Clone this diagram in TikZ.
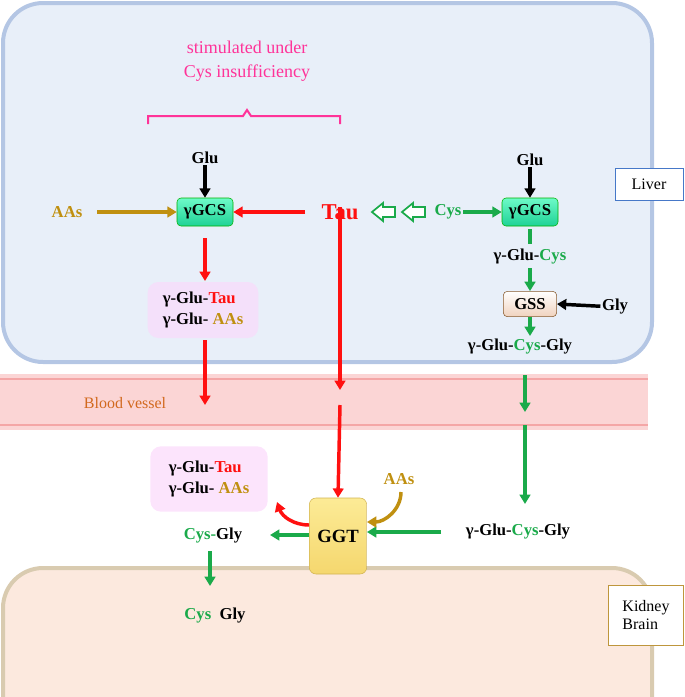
\documentclass[tikz,border=0pt]{standalone}
\usepackage{fontspec}
\setmainfont{Liberation Serif}
\usetikzlibrary{arrows.meta}
\definecolor{gr}{HTML}{1AAA4A}
\definecolor{gd}{HTML}{C09010}
\definecolor{rd}{HTML}{FF1010}
\definecolor{pk}{HTML}{FF3399}
\definecolor{lvb}{HTML}{B4C6E4}
\definecolor{lvf}{HTML}{E8EFF9}
\definecolor{bvf}{HTML}{FBD5D5}
\definecolor{bvl}{HTML}{F4A6A6}
\definecolor{kb}{HTML}{D9CBB0}
\definecolor{kf}{HTML}{FCE9DE}
\definecolor{lb}{HTML}{4678C8}
\definecolor{kbb}{HTML}{BE963C}
\definecolor{gtop}{HTML}{6EFAC8}
\definecolor{gbot}{HTML}{1ED296}
\definecolor{gsb}{HTML}{F0D2BE}
\definecolor{pb}{HTML}{F4E0FA}
\definecolor{pb2}{HTML}{FCE4FC}
\definecolor{bvt}{HTML}{D2691E}
\definecolor{ytop}{HTML}{FCEB96}
\definecolor{ybot}{HTML}{F5D76E}
\definecolor{yb}{HTML}{D2B450}
\tikzset{
 t/.style={font=\bfseries\fontsize{12.5}{15}\selectfont, inner sep=1pt},
 ar/.style={-{Triangle[length=7pt,width=8pt]}, line width=2.6pt},
 enz/.style={rounded corners=3pt, draw=#1!70!black, thin, minimum width=42pt, minimum height=21pt, font=\bfseries\fontsize{12.5}{15}\selectfont},
}
\begin{document}
\begin{tikzpicture}[x=0.75pt,y=-0.75pt]
\useasboundingbox (0,0) rectangle (685,697);
% compartments
\draw[line width=3pt, draw=lvb, fill=lvf, rounded corners=30pt] (3,3) rectangle (652,362);
\fill[bvf] (0,374) rectangle (648,430);
\draw[line width=2pt, bvl] (0,379) -- (648,379) (0,425) -- (648,425);
\draw[line width=3pt, draw=kb, fill=kf, rounded corners=30pt] (3,720) -- (3,568) -- (652,568) -- (652,720);
\node[draw=lb, fill=white, minimum width=51pt, minimum height=24pt, font=\fontsize{12}{14}\selectfont] (liver) at (649,184) {Liver};
\node[draw=kbb, fill=white, minimum width=56pt, minimum height=45pt, align=left, font=\fontsize{12}{14}\selectfont] (kid) at (646,615) {Kidney\\Brain};
% brace
\node[pk, font=\fontsize{13.5}{18}\selectfont, align=center] (stim) at (247,61) {stimulated under\\Cys insufficiency};
\draw[pk, line width=1.5pt] (148,124) -- (148,116) -- (243,116) -- (247,110) -- (251,116) -- (340,116) -- (340,124);
% left part
\node[t] (glu1) at (205,158) {Glu};
\node[enz=green, top color=gtop, bottom color=gbot] (gcs1) at (205,212) {γGCS};
\node[t, gd] (aas1) at (67,212) {AAs};
\node[rd, font=\bfseries\fontsize{17}{20}\selectfont] (tau) at (340,212) {Tau};
\node[t, gr] (cys1) at (448,212) {Cys};
\node[enz=green, top color=gtop, bottom color=gbot] (gcs2) at (530,212) {γGCS};
\node[t] (glu2) at (530,160) {Glu};
\node[t] (gc) at (530,257) {γ-Glu-\textcolor{gr}{Cys}};
\node[enz=brown, top color=white, bottom color=gsb, minimum width=40pt, minimum height=19pt] (gss) at (530,304) {GSS};
\node[t] (gly1) at (615,307) {Gly};
\node[t] (gcg1) at (520,347) {γ-Glu-\textcolor{gr}{Cys}-Gly};
\node[fill=pb, rounded corners=8pt, minimum width=83pt, minimum height=42pt] (pb1) at (203,310) {};
\node[t, align=left] at (pb1) {γ-Glu-\textcolor{rd}{Tau}\\[1pt]γ-Glu- \textcolor{gd}{AAs}};
\node[font=\fontsize{12}{14}\selectfont, bvt] (bv) at (125,403) {Blood vessel};
% arrows top
\draw[ar] (glu1) -- (gcs1);
\draw[ar] (glu2) -- (gcs2);
\draw[ar, gd] (97,212) -- (gcs1.west);
\draw[ar, rd] (305,212) -- (gcs1.east);
\draw[ar, gr] (cys1) -- (gcs2);
\draw[gr, line width=1.3pt, fill=white] (395,207)--(383,207)--(383,203)--(372,212)--(383,221)--(383,217)--(395,217)--cycle;
\draw[gr, line width=1.3pt, fill=white] (425,207)--(413,207)--(413,203)--(402,212)--(413,221)--(413,217)--(425,217)--cycle;
\draw[gr, line width=2.6pt] (gcs2.south)++(0,3) -- (530,244);
\draw[ar, gr] (530,268) -- (gss.north);
\draw[ar, gr] (gss.south) -- (530,336);
\draw[ar] (gly1) -- (gss.east);
\draw[ar, rd] (205,238) -- (205,281);
\draw[ar, rd] (205,340) -- (205,405);
\coordinate (t1) at (340,390);
\draw[ar, rd] (340,207) -- (t1);
\draw[ar, gr] (525,375) -- (525,412);
% lower
\node[fill=pb2, rounded corners=8pt, minimum width=88pt, minimum height=49pt] (pb2) at (209,479) {};
\node[t, align=left] at (pb2) {γ-Glu-\textcolor{rd}{Tau}\\[1pt]γ-Glu- \textcolor{gd}{AAs}};
\node[rounded corners=5pt, draw=yb, top color=ytop, bottom color=ybot, minimum width=43pt, minimum height=57pt, font=\bfseries\fontsize{14}{16}\selectfont] (ggt) at (338,536) {GGT};
\node[t, gd] (aas2) at (399,479) {AAs};
\node[t] (gcg2) at (518,532) {γ-Glu-\textcolor{gr}{Cys}-Gly};
\node[t] (cg) at (213,536) {\textcolor{gr}{Cys-}Gly};
\node[t] (cgg) at (215,616) {\textcolor{gr}{Cys}\enspace Gly};
\draw[ar, rd] (340,405) -- (ggt.north);
\draw[ar, gr] (525,425) -- (525,504);
\draw[ar, gr] (441,532) -- (ggt.east |- 0,532);
\draw[ar, gd] (401,492) to[out=-90, in=0] (ggt.east |- 0,522);
\draw[ar, rd] (ggt.west |- 0,525) to[out=180, in=-70] (277,502);
\draw[ar, gr] (ggt.west |- 0,535) -- (270,535);
\draw[ar, gr] (210,551) -- (210,586);
\end{tikzpicture}
\end{document}
